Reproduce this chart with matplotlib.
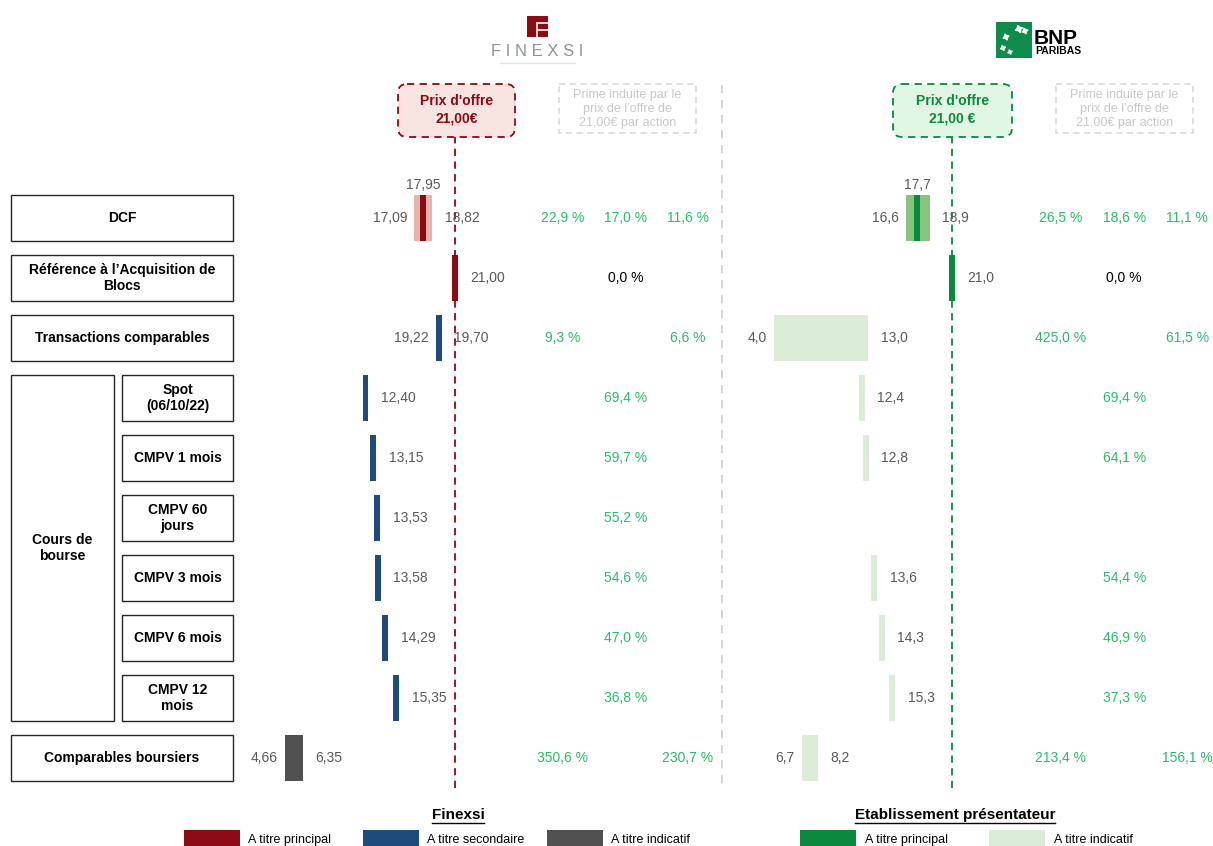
import matplotlib.pyplot as plt
from matplotlib.patches import Rectangle, FancyBboxPatch

plt.rcParams["font.family"] = ["Liberation Sans", "DejaVu Sans"]

W, H = 1213, 846
DPI = 100

OFFER = 21.0

ROW_LABELS = [
    "DCF",
    "Référence à l’Acquisition de\nBlocs",
    "Transactions comparables",
    "Spot\n(06/10/22)",
    "CMPV 1 mois",
    "CMPV 60\njours",
    "CMPV 3 mois",
    "CMPV 6 mois",
    "CMPV 12\nmois",
    "Comparables boursiers",
]
GROUP_LABEL = "Cours de\nbourse"
GROUP_ROWS = [3, 8]

# Finexsi valuation (low / mid / high per method)
FIN_LOW = [17.09, 21.00, 19.22, 12.40, 13.15, 13.53, 13.58, 14.29, 15.35, 4.66]
FIN_MID = [17.95, None, None, None, None, None, None, None, None, None]
FIN_HIGH = [18.82, None, 19.70, None, None, None, None, None, None, 6.35]
FIN_KIND = ["principal", "principal", "secondaire", "secondaire", "secondaire",
            "secondaire", "secondaire", "secondaire", "secondaire", "indicatif"]

# Etablissement présentateur (BNP Paribas)
BNP_LOW = [16.6, 21.0, 4.0, 12.4, 12.8, None, 13.6, 14.3, 15.3, 6.7]
BNP_MID = [17.7, None, None, None, None, None, None, None, None, None]
BNP_HIGH = [18.9, None, 13.0, None, None, None, None, None, None, 8.2]
BNP_KIND = ["principal", "principal", "indicatif", "indicatif", "indicatif",
            "indicatif", "indicatif", "indicatif", "indicatif", "indicatif"]

FIN_COLORS = {"principal": "#8E0A12", "secondaire": "#1F4A7D", "indicatif": "#505050"}
FIN_RANGE = "#E6B4AB"
BNP_COLORS = {"principal": "#0A8A3C", "indicatif": "#DBEDD7"}
BNP_RANGE = "#88C47E"

FIN_LEGEND = [("A titre principal", "#8E0A12"), ("A titre secondaire", "#1F4A7D"),
              ("A titre indicatif", "#505050")]
BNP_LEGEND = [("A titre principal", "#0A8A3C"), ("A titre indicatif", "#DBEDD7")]

PCT_GREEN = "#2DBA68"
VAL_GREY = "#595959"
PCT_COLS = [31.35, 37.4, 43.4]
MIN_W = 0.55
BAR_H = 0.77


def px_rect(x0, y0, x1, y1):
    return [x0 / W, 1 - y1 / H, (x1 - x0) / W, (y1 - y0) / H]


def fmt(v, d):
    return f"{v:.{d}f}".replace(".", ",")


def pct_text(ax, col, row, v):
    p = (OFFER / v - 1) * 100
    color = "black" if abs(p) < 1e-9 else PCT_GREEN
    ax.text(PCT_COLS[col], row, f"{p:.1f} %".replace(".", ","), ha="center",
            va="center", fontsize=10, color=color)


def draw_panel(ax, low, mid, high, kind, colors, range_color, dec):
    for i in range(len(low)):
        if low[i] is None:
            continue
        if high[i] is None:
            left = low[i] - MIN_W / 2
            ax.barh(i, MIN_W, left=left, height=BAR_H, color=colors[kind[i]], zorder=3)
            ax.annotate(fmt(low[i], dec), (left + MIN_W, i), xytext=(9, 0),
                        textcoords="offset points", ha="left", va="center",
                        fontsize=10, color=VAL_GREY)
            pct_text(ax, 1, i, low[i])
            continue
        if kind[i] == "principal":
            left, width = low[i], high[i] - low[i]
            ax.barh(i, width, left=left, height=BAR_H, color=range_color, zorder=2)
            ax.barh(i, MIN_W, left=mid[i] - MIN_W / 2, height=BAR_H,
                    color=colors[kind[i]], zorder=3)
            ax.annotate(fmt(mid[i], dec), (mid[i], i - BAR_H / 2), xytext=(0, 2),
                        textcoords="offset points", ha="center", va="bottom",
                        fontsize=10, color=VAL_GREY)
            pct_text(ax, 1, i, mid[i])
        else:
            width = max(high[i] - low[i], MIN_W)
            left = (low[i] + high[i]) / 2 - width / 2
            ax.barh(i, width, left=left, height=BAR_H, color=colors[kind[i]], zorder=3)
        ax.annotate(fmt(low[i], dec), (left, i), xytext=(-5, 0),
                    textcoords="offset points", ha="right", va="center",
                    fontsize=10, color=VAL_GREY)
        ax.annotate(fmt(high[i], dec), (left + width, i), xytext=(9, 0),
                    textcoords="offset points", ha="left", va="center",
                    fontsize=10, color=VAL_GREY)
        pct_text(ax, 0, i, low[i])
        pct_text(ax, 2, i, high[i])


fig = plt.figure(figsize=(W / DPI, H / DPI), dpi=DPI)
fig.patch.set_facecolor("white")

# overlay in pixel units for boxes, headers, logos and legend
ov = fig.add_axes([0, 0, 1, 1])
ov.set_xlim(0, W)
ov.set_ylim(H, 0)
ov.set_axis_off()

# method label boxes
for i, lab in enumerate(ROW_LABELS):
    yc = 218 + 60 * i
    if GROUP_ROWS[0] <= i <= GROUP_ROWS[1]:
        x0, x1 = 122, 233
    else:
        x0, x1 = 11, 233
    ov.add_patch(Rectangle((x0, yc - 23), x1 - x0, 46, fill=False,
                           edgecolor="#262626", lw=1))
    ov.text((x0 + x1) / 2, yc, lab, ha="center", va="center", fontsize=10,
            fontweight="bold", linespacing=1.2)
g0 = 218 + 60 * GROUP_ROWS[0] - 23
g1 = 218 + 60 * GROUP_ROWS[1] + 23
ov.add_patch(Rectangle((11, g0), 103, g1 - g0, fill=False, edgecolor="#262626", lw=1))
ov.text(62, (g0 + g1) / 2, GROUP_LABEL, ha="center", va="center", fontsize=10,
        fontweight="bold", linespacing=1.2)

# separator between the two panels
ov.plot([722, 722], [85, 790], color="#CFCFCF", lw=1.2, ls=(0, (5, 4)))


def offer_box(x0, x1, edge, face, text):
    ov.add_patch(FancyBboxPatch((x0, 84), x1 - x0, 53,
                                boxstyle="round,pad=0,rounding_size=9",
                                facecolor=face, edgecolor=edge, lw=1.3,
                                ls=(0, (4, 3))))
    ov.text((x0 + x1) / 2, 110, text, ha="center", va="center", fontsize=10,
            fontweight="bold", color=edge, linespacing=1.3)


def prime_box(x0, x1):
    ov.add_patch(Rectangle((x0, 84), x1 - x0, 49, fill=False, edgecolor="#D6D6D6",
                           lw=1.1, ls=(0, (4, 3))))
    ov.text((x0 + x1) / 2, 109, "Prime induite par le\nprix de l’offre de\n21,00€ par action",
            ha="center", va="center", fontsize=9, color="#C8C8C8", linespacing=1.2)


offer_box(398, 515, "#8E0A12", "#F8E4E1", "Prix d'offre\n21,00€")
prime_box(559, 696)
offer_box(893, 1012, "#0A8A3C", "#E2F6E4", "Prix d'offre\n21,00 €")
prime_box(1056, 1193)

# Finexsi logo
ov.add_patch(Rectangle((527, 16), 21, 21, color="#8E0A12", lw=0))
ov.plot([537, 537], [23, 37], color="white", lw=1.2)
ov.plot([537, 548], [23, 23], color="white", lw=1.2)
ov.plot([537, 548], [30, 30], color="white", lw=1.2)
ov.text(537, 52, "F I N E X S I", ha="center", va="center", fontsize=12,
        color="#8C9597")
ov.plot([500, 575], [63, 63], color="#E3E3E3", lw=1)

# BNP Paribas logo
ov.add_patch(Rectangle((996, 22), 36, 36, color="#0D8C4C", lw=0))
ov.scatter([1006, 1019, 1025, 1003, 1010], [37, 29, 31, 48, 52], marker=(4, 1, 20),
           s=[20, 28, 18, 14, 10], color="white", zorder=5)
ov.text(1034, 38, "BNP", ha="left", va="center", fontsize=15, fontweight="bold")
ov.text(1035, 51, "PARIBAS", ha="left", va="center", fontsize=7.5, fontweight="bold")

# legends
fig.canvas.draw()
renderer = fig.canvas.get_renderer()


def legend_title(xc, text):
    t = ov.text(xc, 815, text, ha="center", va="center", fontsize=11, fontweight="bold")
    bb = t.get_window_extent(renderer)
    (xa, _), (xb, _) = ov.transData.inverted().transform([[bb.x0, 0], [bb.x1, 0]])
    ov.plot([xa, xb], [823, 823], color="black", lw=1)


legend_title(458, "Finexsi")
legend_title(955, "Etablissement présentateur")
for (lab, col), x0 in zip(FIN_LEGEND, [184, 363, 547]):
    ov.add_patch(Rectangle((x0, 830), 56, 20, color=col, lw=0))
    ov.text(x0 + 64, 840, lab, ha="left", va="center", fontsize=9)
for (lab, col), x0 in zip(BNP_LEGEND, [800, 989]):
    ov.add_patch(Rectangle((x0, 830), 56, 20, color=col, lw=0))
    ov.text(x0 + 65, 840, lab, ha="left", va="center", fontsize=9)

# value panels
fin_ax = fig.add_axes(px_rect(236.6, 137, 722, 788))
fin_ax.set_xlim(0, (722 - 236.6) / 10.4)
bnp_ax = fig.add_axes(px_rect(731.5, 137, 1213, 788))
bnp_ax.set_xlim(0, (1213 - 731.5) / 10.5)
for ax in (fin_ax, bnp_ax):
    ax.set_ylim(9.5, -1.35)
    ax.set_axis_off()
    ax.patch.set_alpha(0)

fin_ax.axvline(OFFER, color="#8E0A12", lw=1.3, ls=(0, (4, 3)), zorder=2.5)
bnp_ax.axvline(OFFER, color="#0A8A3C", lw=1.3, ls=(0, (4, 3)), zorder=2.5)

draw_panel(fin_ax, FIN_LOW, FIN_MID, FIN_HIGH, FIN_KIND, FIN_COLORS, FIN_RANGE, 2)
draw_panel(bnp_ax, BNP_LOW, BNP_MID, BNP_HIGH, BNP_KIND, BNP_COLORS, BNP_RANGE, 1)

fig.savefig("out.png", dpi=DPI, facecolor="white")
